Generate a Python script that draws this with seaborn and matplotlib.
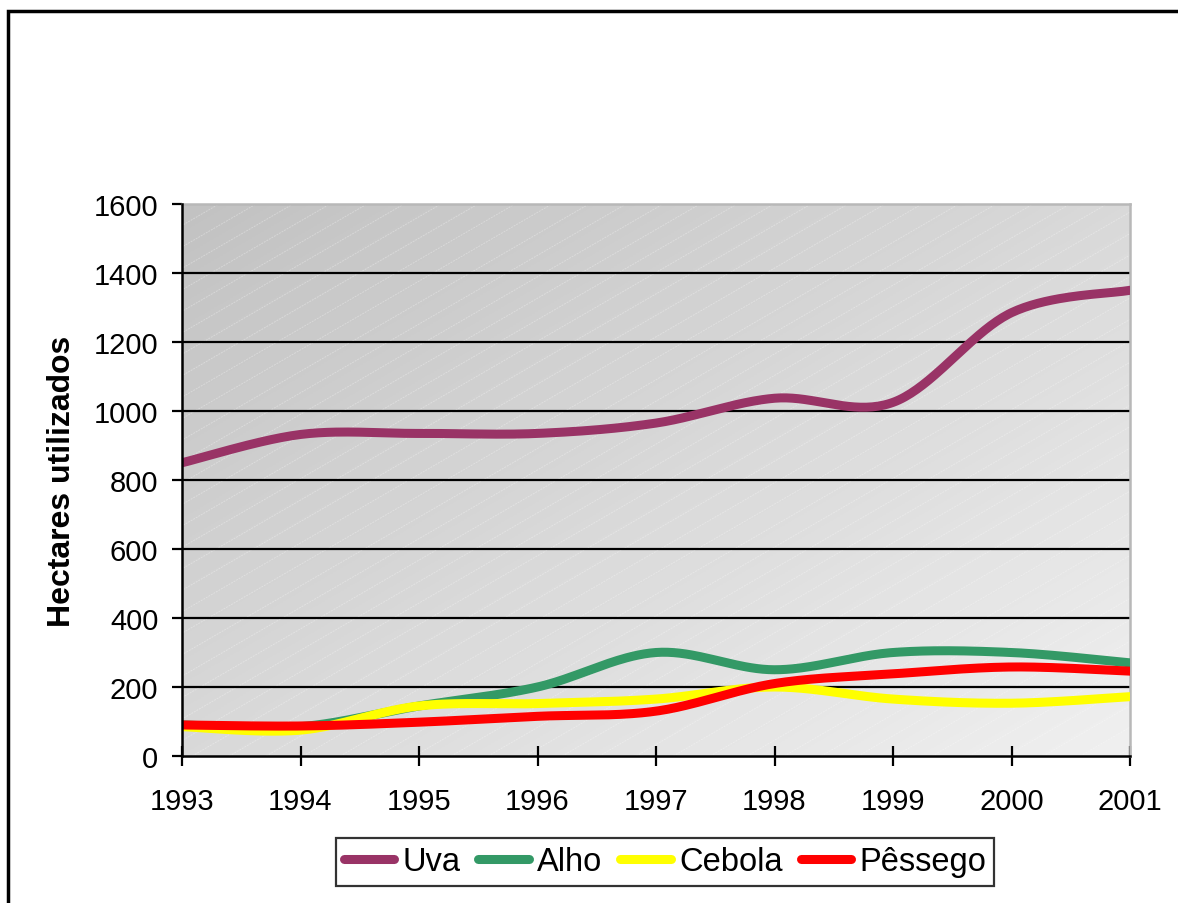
import numpy as np
import pandas as pd
import matplotlib
matplotlib.use("Agg")
import matplotlib.pyplot as plt
import seaborn as sns
from matplotlib.patches import Rectangle

years = [1993, 1994, 1995, 1996, 1997, 1998, 1999, 2000, 2001]
uva = [850, 932, 935, 935, 965, 1037, 1025, 1285, 1350]
alho = [90, 85, 145, 200, 300, 250, 300, 300, 270]
cebola = [85, 75, 145, 152, 165, 200, 165, 153, 172]
pessego = [90, 87, 98, 115, 130, 210, 238, 258, 246]
series_names = ["Uva", "Alho", "Cebola", "Pêssego"]
series_values = [uva, alho, cebola, pessego]
colors = ["#993366", "#339966", "#FFFF00", "#FF0000"]
yticks = [0, 200, 400, 600, 800, 1000, 1200, 1400, 1600]


def smooth(xs, ys, n=40):
    """Excel-like smoothed line (Catmull-Rom Bezier)."""
    P = np.column_stack([xs, ys]).astype(float)
    m = len(P)
    out = []
    for i in range(m - 1):
        p0 = P[i - 1] if i > 0 else P[i]
        p1 = P[i]
        p2 = P[i + 1]
        p3 = P[i + 2] if i + 2 < m else P[i + 1]
        c1 = p1 + (p2 - p0) / 6.0
        c2 = p2 - (p3 - p1) / 6.0
        t = np.linspace(0, 1, n, endpoint=(i == m - 2))[:, None]
        b = ((1 - t) ** 3) * p1 + 3 * ((1 - t) ** 2) * t * c1 + 3 * (1 - t) * t ** 2 * c2 + t ** 3 * p2
        out.append(b)
    return np.vstack(out)


frames = []
for name, vals in zip(series_names, series_values):
    pts = smooth(years, vals)
    frames.append(pd.DataFrame({"Ano": pts[:, 0], "Hectares": pts[:, 1],
                                "Produto": name, "ord": np.arange(len(pts))}))
df = pd.concat(frames, ignore_index=True)

sns.set_style("white")
plt.rcParams["font.family"] = ["Liberation Sans", "DejaVu Sans"]
plt.rcParams["text.color"] = "black"
plt.rcParams["axes.labelcolor"] = "black"
plt.rcParams["xtick.color"] = "black"
plt.rcParams["ytick.color"] = "black"

fig = plt.figure(figsize=(11.78, 9.04), dpi=100)
ax = fig.add_axes([182 / 1178, 1 - 757 / 904, 948 / 1178, 552 / 904])

# gradient background (dark top-left to light bottom-right)
gx, gy = np.meshgrid(np.linspace(0, 1, 300), np.linspace(0, 1, 300))
g = (gx + gy) / 2.0
ax.imshow(g, cmap=matplotlib.colors.LinearSegmentedColormap.from_list(
    "bg", ["#c2c2c2", "#f0f0f0"]), extent=[0, 1, 0, 1], origin="upper",
    transform=ax.transAxes, aspect="auto", zorder=0)

# faint diagonal texture lines (~30 degrees in pixel space)
W, H = 948.0, 552.0
spacing = 37.0
slope = 0.58  # pixel rise per pixel run
for x0 in np.arange(-H / slope, W, spacing):
    xs_ = np.array([x0, x0 + H / slope]) / W
    ys_ = np.array([0, 1])
    ax.plot(xs_, ys_, transform=ax.transAxes, color="white", alpha=0.3,
            linewidth=0.7, linestyle=(0, (2, 1)), zorder=0.5, clip_on=True)

sns.lineplot(data=df, x="Ano", y="Hectares", hue="Produto", hue_order=series_names,
             palette=colors, estimator=None, sort=False, units="Produto",
             linewidth=6.5, ax=ax, legend=False, zorder=3)

ax.set_xlim(years[0], years[-1])
ax.set_ylim(0, 1600)
ax.set_yticks(yticks)
ax.set_xticks(years)
ax.set_xticklabels([str(y) for y in years])
for yv in yticks[1:-1]:
    ax.axhline(yv, color="black", linewidth=1.6, zorder=1)

ax.tick_params(axis="y", direction="out", length=7, width=1.6, pad=10,
               labelsize=21, left=True, colors="black")
ax.tick_params(axis="x", direction="inout", length=14, width=1.6, pad=15,
               labelsize=21, bottom=True, colors="black")
for side in ["left", "bottom"]:
    ax.spines[side].set_color("black")
    ax.spines[side].set_linewidth(1.8)
    ax.spines[side].set_zorder(4)
for side in ["top", "right"]:
    ax.spines[side].set_color("#b8b8b8")
    ax.spines[side].set_linewidth(1.8)
    ax.spines[side].set_visible(True)

ax.set_xlabel("")
ax.set_ylabel("Hectares utilizados", fontsize=23, fontweight="bold", labelpad=12)

handles = [plt.Line2D([0], [0], color=c, linewidth=6.5, solid_capstyle="round") for c in colors]
leg = fig.legend(handles, series_names, loc="center", bbox_to_anchor=(665 / 1178, 1 - 863 / 904),
                 ncol=4, fontsize=23.5, frameon=True, fancybox=False, edgecolor="black",
                 handlelength=1.55, handletextpad=0.25, columnspacing=0.55,
                 borderpad=0.25, borderaxespad=0)
leg.get_frame().set_linewidth(1.6)

fig.patches.append(Rectangle((8 / 1178, -0.05), 1.2, 1 - 12 / 904 + 0.05, transform=fig.transFigure,
                             facecolor="none", edgecolor="black", linewidth=2.5))

fig.savefig("out.png", dpi=100)
